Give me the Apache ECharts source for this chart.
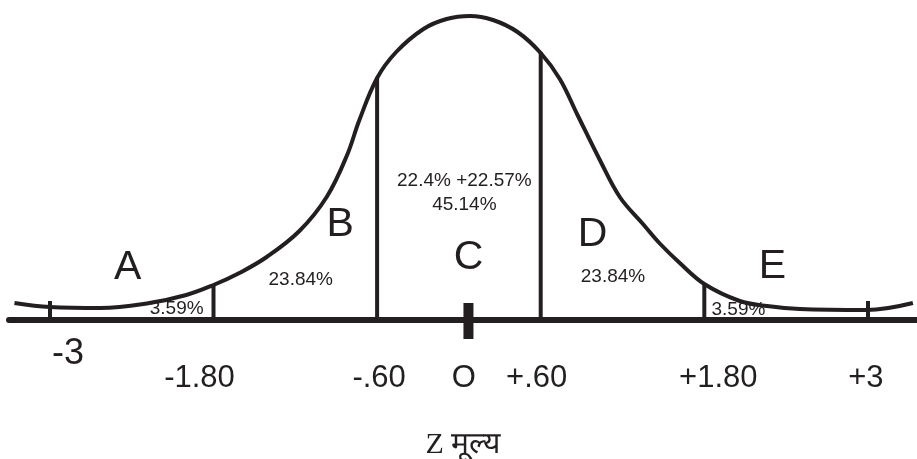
<!DOCTYPE html>
<html lang="hi">
<head>
<meta charset="UTF-8">
<title>Z मूल्य</title>
<script src="https://cdn.jsdelivr.net/npm/echarts@6/dist/echarts.min.js"></script>
<style>
    html, body { margin: 0; padding: 0; background: #fff; }
    #chart { width: 917px; height: 459px; }
</style>
</head>
<body>
<div id="chart"></div>
<script>
// curve: z value and height above the baseline
var curveZ = [-3.26, -3.00, -2.63, -2.27, -2.00, -1.80, -1.61, -1.41, -1.17, -0.97, -0.82, -0.73, -0.60,
              -0.46, -0.26, -0.09, 0.08, 0.25, 0.43, 0.60, 0.74, 0.87, 1.03, 1.18, 1.35, 1.47, 1.62,
              1.80, 2.06, 2.26, 2.50, 2.99, 3.33];
var curveH = [17, 13, 12, 17, 25, 35, 47, 63, 89, 123, 165, 200, 242,
              268, 291, 301, 304, 300, 288, 267, 241, 205, 161, 123, 96, 77, 57,
              36, 19, 14, 11, 10, 17];

// vertical division lines
var dividerZ = [-1.8, -0.6, 0.6, 1.8];
var dividerH = [35, 243, 268, 36];

// axis
var tickZ = [-3, -1.8, -0.6, 0, 0.6, 1.8, 3];
var tickLabels = ['-3', '-1.80', '-.60', 'O', '+.60', '+1.80', '+3'];
var tickMarkZ = [-3, 3];
var centerMarkZ = 0.07;
var centerMarkH = [-19, 17];
var axisName = 'Z मूल्य';

// area letters
var regionLetters = ['A', 'B', 'C', 'D', 'E'];
var regionZ = [-2.43, -0.87, 0.07, 0.98, 2.30];
var regionH = [52, 95, 62, 85, 53];

// percentages
var percentTexts = ['3.59%', '23.84%', '22.4% +22.57%', '45.14%', '23.84%', '3.59%'];
var percentZ = [-2.07, -1.16, 0.04, 0.04, 1.13, 2.05];
var percentH = [11, 40, 139, 115, 43, 10];

var INK = '#231f20';
var SANS = '"Liberation Sans", Arial, sans-serif';

var chart = echarts.init(document.getElementById('chart'));

// per label horizontal nudge; -3 sits higher and bigger than the rest
var labelShift = [36, -28, 4, 10, -8, 28, -4];
var rich = {};
tickLabels.forEach(function (t, i) {
    var s = labelShift[i];
    var big = i === 0;
    rich['t' + i] = {
        fontSize: big ? 36 : 31,
        lineHeight: big ? 42 : 90,
        fontFamily: SANS,
        color: INK,
        padding: [0, s < 0 ? -s : 0, 0, s > 0 ? s : 0]
    };
});

var series = [];
dividerZ.forEach(function (z, i) {
    series.push({
        type: 'line',
        data: [[z, 0], [z, dividerH[i]]],
        symbol: 'none',
        silent: true,
        lineStyle: { color: INK, width: 4 }
    });
});
// thick mark at the centre, crosses the baseline
series.push({
    type: 'line',
    data: [[centerMarkZ, centerMarkH[0]], [centerMarkZ, centerMarkH[1]]],
    symbol: 'none',
    silent: true,
    clip: false,
    z: 5,
    lineStyle: { color: INK, width: 10 }
});
series.push({
    type: 'line',
    data: curveZ.map(function (z, i) { return [z, curveH[i]]; }),
    smooth: 0.38,
    symbol: 'none',
    silent: true,
    lineStyle: { color: INK, width: 4, join: 'round' }
});

function textLayer(z, h, texts, size) {
    return {
        type: 'scatter',
        data: z.map(function (v, i) { return { value: [v, h[i]], name: texts[i] }; }),
        symbolSize: 1,
        itemStyle: { color: 'rgba(255,255,255,0)', opacity: 1 },
        silent: true,
        label: {
            show: true, position: 'inside', formatter: '{b}',
            fontSize: size, fontFamily: SANS, color: INK,
            opacity: 1, textBorderWidth: 0
        }
    };
}
series.push(textLayer(regionZ, regionH, regionLetters, 41));
series.push(textLayer(percentZ, percentH, percentTexts, 19));

chart.setOption({
    animation: false,
    backgroundColor: '#ffffff',
    grid: { left: 9, right: 0, top: 0, bottom: 139, outerBoundsMode: 'none', containLabel: false },
    xAxis: {
        type: 'value',
        min: -3.3,
        max: 3.36,
        splitLine: { show: false },
        axisLine: { onZero: false, lineStyle: { color: INK, width: 6 } },
        axisTick: {
            show: true,
            inside: true,
            length: 19,
            customValues: tickMarkZ,
            lineStyle: { color: INK, width: 4 }
        },
        axisLabel: {
            customValues: tickZ,
            margin: 13,
            formatter: function (v) {
                var i = tickZ.indexOf(v);
                return i < 0 ? '' : '{t' + i + '|' + tickLabels[i] + '}';
            },
            rich: rich
        },
        name: axisName,
        nameLocation: 'middle',
        nameGap: 110,
        nameTextStyle: {
            fontSize: 30,
            color: INK,
            fontFamily: '"Liberation Serif", "DejaVu Serif", serif'
        }
    },
    yAxis: {
        type: 'value',
        min: 0,
        max: 320,
        show: false
    },
    series: series
});
</script>
</body>
</html>
